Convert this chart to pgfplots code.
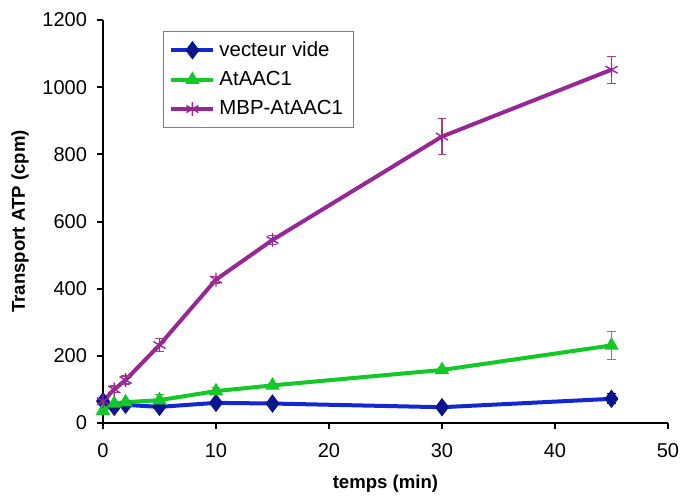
\documentclass[border=0pt]{standalone}
\usepackage{fontspec}
\setmainfont{Liberation Sans}
\usepackage{pgfplots}
\pgfplotsset{compat=1.18}
\definecolor{bline}{RGB}{20,40,210}
\definecolor{bmark}{RGB}{10,20,140}
\definecolor{gline}{RGB}{20,200,40}
\definecolor{pline}{RGB}{150,40,150}
\definecolor{perr}{RGB}{170,60,120}
\begin{document}
\begin{tikzpicture}
\begin{axis}[
  name=ax,
  scale only axis,
  width=282.5pt, height=201.5pt,
  xmin=0, xmax=50, ymin=0, ymax=1200,
  axis lines=left,
  axis line style={line width=1.2pt, -},
  xtick={0,10,...,50}, ytick={0,200,...,1200},
  tick align=outside, major tick length=3pt,
  tick style={line width=1pt, black},
  /pgf/number format/assume math mode=true,
  /pgf/number format/1000 sep={},
  tick label style={font=\fontsize{10}{11}\selectfont},
  xticklabel style={yshift=-3.5pt},
  yticklabel style={xshift=-1.5pt},
  xlabel={\textbf{temps (min)}},
  ylabel={\textbf{Transport ATP (cpm)}},
  label style={font=\fontsize{9.3}{10}\selectfont},
  xlabel style={yshift=-2pt},
  ylabel style={yshift=0pt},
  legend style={at={(rel axis cs:0.106,0.973)}, anchor=north west, draw=gray, line width=0.5pt,
    font=\fontsize{10.2}{12}\selectfont, inner sep=3pt, row sep=2pt},
  legend cell align=left,
  legend image code/.code={\draw[mark repeat=2,mark phase=2,#1] plot coordinates {(0cm,0cm) (0.37cm,0cm) (0.74cm,0cm)};},
  clip=false,
]
\addplot[color=bline, line width=2pt, mark=diamond*, mark size=3pt,
  mark options={fill=bmark, draw=bmark},
  error bars/.cd, y dir=both, y explicit, error bar style={black, line width=0.6pt}, error mark options={rotate=90, mark size=2.2pt, black, line width=0.6pt}]
  coordinates {(0,65) +- (0,0) (1,48) +- (0,0) (2,54) +- (0,0) (5,48) +- (0,0) (10,60) +- (0,0) (15,58) +- (0,0) (30,47) +- (0,0) (45,72) +- (0,15)};
\addlegendentry{vecteur vide}
\addplot[color=gline, line width=2pt, mark=triangle*, mark size=2.2pt,
  mark options={fill=gline, draw=gline},
  error bars/.cd, y dir=both, y explicit, error bar style={gline, line width=0.6pt}, error mark options={rotate=90, mark size=2.2pt, gline, line width=0.6pt}]
  coordinates {(0,37) +- (0,0) (1,58) +- (0,0) (2,62) +- (0,0) (5,68) +- (0,18) (10,95) +- (0,11) (15,112) +- (0,5) (30,158) +- (0,7) (45,231) +- (0,42)};
\addlegendentry{AtAAC1}
\addplot[color=pline, line width=2pt, mark=asterisk, mark size=3.5pt,
  mark options={draw=pline, line width=0.7pt},
  error bars/.cd, y dir=both, y explicit, error bar style={perr, line width=0.6pt}, error mark options={rotate=90, mark size=2.2pt, perr, line width=0.6pt}]
  coordinates {(0,65) +- (0,0) (1,100) +- (0,10) (2,128) +- (0,12) (5,232) +- (0,20) (10,427) +- (0,10) (15,545) +- (0,14) (30,853) +- (0,53) (45,1052) +- (0,40)};
\addlegendentry{MBP-AtAAC1}
\end{axis}
\pgfresetboundingbox
\path ([shift={(-51.5pt,-38.5pt)}]ax.south west) rectangle ([shift={(289.5pt,211.5pt)}]ax.south west);
\end{tikzpicture}
\end{document}
